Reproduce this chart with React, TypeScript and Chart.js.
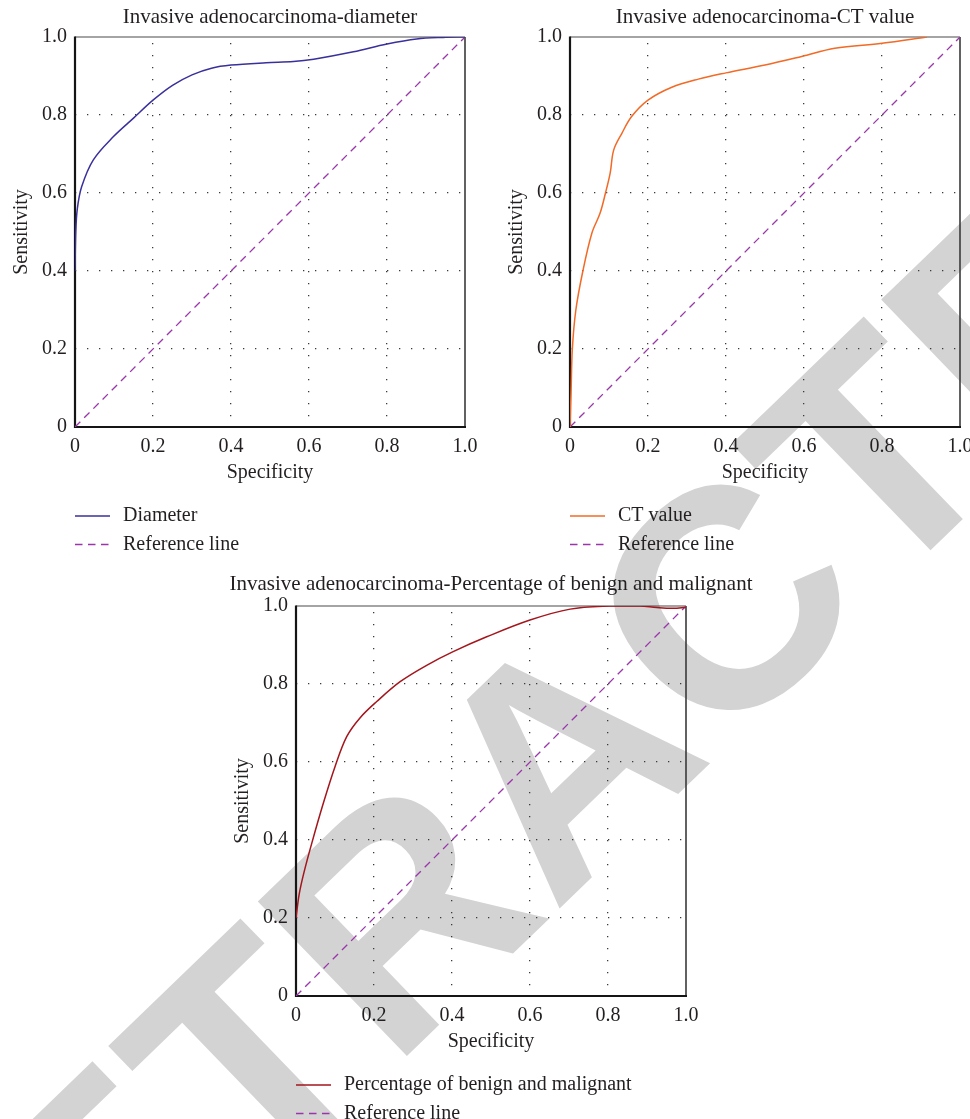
import React, { useEffect, useRef } from "react";
import { Chart, registerables } from "chart.js";

Chart.register(...registerables);

// ---------- data ----------
const tickValues = [0, 0.2, 0.4, 0.6, 0.8, 1.0];
const tickLabels = ["0", "0.2", "0.4", "0.6", "0.8", "1.0"];
const referenceLine = [0, 1];

const chartTitles = [
  "Invasive adenocarcinoma-diameter",
  "Invasive adenocarcinoma-CT value",
  "Invasive adenocarcinoma-Percentage of benign and malignant",
];
const seriesLabels = ["Diameter", "CT value", "Percentage of benign and malignant"];
const referenceLabel = "Reference line";
const xAxisTitle = "Specificity";
const yAxisTitle = "Sensitivity";
const watermarkText = "RETRACTED";

const diameterSpecificity = [0, 0.002, 0.006, 0.017, 0.047, 0.098, 0.15, 0.2, 0.25, 0.3, 0.35, 0.4, 0.49, 0.56, 0.612, 0.714, 0.8, 0.876, 0.944, 1.0];
const diameterSensitivity = [0.4, 0.5, 0.56, 0.616, 0.685, 0.744, 0.792, 0.838, 0.876, 0.903, 0.92, 0.928, 0.934, 0.937, 0.943, 0.962, 0.982, 0.995, 0.999, 1.0];

const ctSpecificity = [0, 0.003, 0.006, 0.015, 0.033, 0.056, 0.077, 0.091, 0.103, 0.112, 0.133, 0.158, 0.2, 0.261, 0.329, 0.4, 0.5, 0.594, 0.679, 0.8, 0.915];
const ctSensitivity = [0, 0.1, 0.2, 0.3, 0.4, 0.497, 0.548, 0.6, 0.651, 0.71, 0.753, 0.796, 0.838, 0.871, 0.892, 0.908, 0.928, 0.95, 0.971, 0.984, 1.0];

const pctSpecificity = [0, 0.008, 0.02, 0.04, 0.07, 0.1, 0.13, 0.164, 0.207, 0.267, 0.335, 0.403, 0.489, 0.6, 0.703, 0.805, 0.882, 0.925, 0.967, 1.0];
const pctSensitivity = [0.2, 0.26, 0.315, 0.39, 0.494, 0.588, 0.665, 0.713, 0.755, 0.806, 0.848, 0.883, 0.921, 0.964, 0.992, 1.0, 1.0, 0.996, 0.994, 0.997];

// ---------- styles ----------
const TEXT_COLOR = "#231f20";
const REF_COLOR = "#9a35aa";
const FONT_FAMILY = "'Liberation Serif', 'Times New Roman', serif";
const AXIS_W = 75;

Chart.defaults.color = TEXT_COLOR;
Chart.defaults.font.family = FONT_FAMILY;
Chart.defaults.font.size = 20;

const framePlugin = {
  id: "frame",
  beforeDatasetsDraw(chart: any) {
    const { ctx, chartArea } = chart;
    const { left, right, top, bottom } = chartArea;
    const seg = (x1: number, y1: number, x2: number, y2: number, color: string, w: number) => {
      ctx.save();
      ctx.strokeStyle = color;
      ctx.lineWidth = w;
      ctx.beginPath();
      ctx.moveTo(x1, y1);
      ctx.lineTo(x2, y2);
      ctx.stroke();
      ctx.restore();
    };
    seg(left, top, right, top, "#4a4a4a", 1.2);
    seg(right, top, right, bottom, "#3a3a3a", 1.6);
    seg(left, top - 0.6, left, bottom + 1, "#151515", 2.2);
    seg(left - 1, bottom, right + 1, bottom, "#151515", 2.2);
  },
};

const legendPlugin = {
  id: "vlegend",
  afterDraw(chart: any, _args: any, opts: any) {
    const { ctx, chartArea } = chart;
    chart.data.datasets.forEach((ds: any, i: number) => {
      const y = chartArea.bottom + opts.offset + i * opts.spacing;
      ctx.save();
      ctx.strokeStyle = ds.borderColor;
      ctx.lineWidth = ds.borderWidth;
      ctx.setLineDash(ds.borderDash || []);
      ctx.beginPath();
      ctx.moveTo(chartArea.left, y);
      ctx.lineTo(chartArea.left + 35, y);
      ctx.stroke();
      ctx.setLineDash([]);
      ctx.fillStyle = TEXT_COLOR;
      ctx.font = `20px ${FONT_FAMILY}`;
      ctx.textBaseline = "middle";
      ctx.textAlign = "left";
      ctx.fillText(ds.label, chartArea.left + 48, y);
      ctx.restore();
    });
  },
};

const gridColor = (c: any) => {
  const v = c.tick ? c.tick.value : 0;
  if (Math.abs(v) < 1e-9 || Math.abs(v - 1) < 1e-9) return "rgba(0,0,0,0)";
  return "#3a3a3a";
};

const setTicks = (scale: any) => {
  scale.ticks = tickValues.map((v) => ({ value: v }));
};

type Cfg = {
  title: string;
  label: string;
  color: string;
  xs: number[];
  ys: number[];
  left: number;
  top: number;
  height: number;
  padTop: number;
  titleGap: number;
  padBottom: number;
};

function RocChart({ cfg }: { cfg: Cfg }) {
  const ref = useRef<HTMLCanvasElement>(null);
  useEffect(() => {
    const canvas = ref.current;
    if (!canvas) return;
    const chart = new Chart(canvas, {
      type: "line",
      data: {
        datasets: [
          {
            label: cfg.label,
            data: cfg.xs.map((x, i) => ({ x, y: cfg.ys[i] })),
            borderColor: cfg.color,
            borderWidth: 1.5,
            pointRadius: 0,
            tension: 0.35,
            fill: false,
            yAxisID: "y",
          },
          {
            label: referenceLabel,
            data: referenceLine.map((v) => ({ x: v, y: v })),
            borderColor: REF_COLOR,
            borderWidth: 1.3,
            borderDash: [7.5, 5.5],
            pointRadius: 0,
            fill: false,
            yAxisID: "y",
          },
        ],
      },
      options: {
        responsive: false,
        animation: false,
        events: [],
        layout: { padding: { left: 0, right: 0, top: cfg.padTop, bottom: cfg.padBottom } },
        plugins: {
          legend: { display: false },
          tooltip: { enabled: false },
          title: {
            display: true,
            text: cfg.title,
            fullSize: true,
            color: TEXT_COLOR,
            font: { family: FONT_FAMILY, size: 21, weight: "normal", lineHeight: 1.2 },
            padding: { top: 0, bottom: cfg.titleGap },
          },
          vlegend: { offset: 89, spacing: 28.5 },
        } as any,
        scales: {
          x: {
            type: "linear",
            min: 0,
            max: 1,
            afterBuildTicks: setTicks,
            afterFit: (s: any) => {
              s.height = 57.5;
            },
            ticks: {
              callback: (_v: any, i: number) => tickLabels[i],
              padding: 8,
              maxRotation: 0,
              autoSkip: false,
              font: { family: FONT_FAMILY, size: 20, lineHeight: 1.2 },
              color: TEXT_COLOR,
            },
            grid: { color: gridColor, lineWidth: 1.3, drawTicks: false },
            border: { display: false, dash: [1.3, 10.7], dashOffset: 6 },
            title: {
              display: true,
              text: xAxisTitle,
              padding: 0,
              color: TEXT_COLOR,
              font: { family: FONT_FAMILY, size: 20, lineHeight: 1.2 },
            },
          },
          y: {
            type: "linear",
            position: "left",
            min: 0,
            max: 1,
            afterBuildTicks: setTicks,
            afterFit: (s: any) => {
              s.width = AXIS_W;
            },
            ticks: {
              callback: (_v: any, i: number) => tickLabels[i],
              padding: 8,
              autoSkip: false,
              font: { family: FONT_FAMILY, size: 20, lineHeight: 1.2 },
              color: TEXT_COLOR,
            },
            grid: { color: gridColor, lineWidth: 1.3, drawTicks: false },
            border: { display: false, dash: [1.3, 10.7] },
            title: {
              display: true,
              text: yAxisTitle,
              padding: { top: 10, bottom: 0 },
              color: TEXT_COLOR,
              font: { family: FONT_FAMILY, size: 20, lineHeight: 1.2 },
            },
          },
          yRight: {
            type: "linear",
            position: "right",
            min: 0,
            max: 1,
            afterFit: (s: any) => {
              s.width = AXIS_W;
            },
            ticks: { display: false },
            grid: { display: false, drawTicks: false },
            border: { display: false },
          },
        } as any,
      },
      plugins: [framePlugin, legendPlugin],
    } as any);
    return () => chart.destroy();
  }, [cfg]);

  return (
    <canvas
      ref={ref}
      width={540}
      height={cfg.height}
      style={{
        position: "absolute",
        left: cfg.left,
        top: cfg.top,
        width: 540,
        height: cfg.height,
        zIndex: 1,
      }}
    />
  );
}

const configs: Cfg[] = [
  {
    title: chartTitles[0],
    label: seriesLabels[0],
    color: "#3a309c",
    xs: diameterSpecificity,
    ys: diameterSensitivity,
    left: 0,
    top: 0,
    height: 565,
    padTop: 4.4,
    titleGap: 7.4,
    padBottom: 80.5,
  },
  {
    title: chartTitles[1],
    label: seriesLabels[1],
    color: "#f26a26",
    xs: ctSpecificity,
    ys: ctSensitivity,
    left: 495,
    top: 0,
    height: 565,
    padTop: 4.4,
    titleGap: 7.4,
    padBottom: 80.5,
  },
  {
    title: chartTitles[2],
    label: seriesLabels[2],
    color: "#a3161c",
    xs: pctSpecificity,
    ys: pctSensitivity,
    left: 221,
    top: 560,
    height: 559,
    padTop: 11.4,
    titleGap: 9.4,
    padBottom: 65.5,
  },
];

export default function App() {
  return (
    <div
      style={{
        position: "absolute",
        left: 0,
        top: 0,
        width: 970,
        height: 1119,
        overflow: "hidden",
        background: "#ffffff",
      }}
    >
      <div
        style={{
          position: "absolute",
          left: 560,
          top: 758,
          transform: "translate(-50%, -50%) rotate(-44deg)",
          fontFamily: "'Liberation Sans', Arial, sans-serif",
          fontWeight: 700,
          fontSize: 312,
          lineHeight: 1,
          color: "#d3d3d3",
          whiteSpace: "nowrap",
          zIndex: 0,
          userSelect: "none",
        }}
      >
        {watermarkText}
      </div>
      {configs.map((c, i) => (
        <RocChart key={i} cfg={c} />
      ))}
    </div>
  );
}
